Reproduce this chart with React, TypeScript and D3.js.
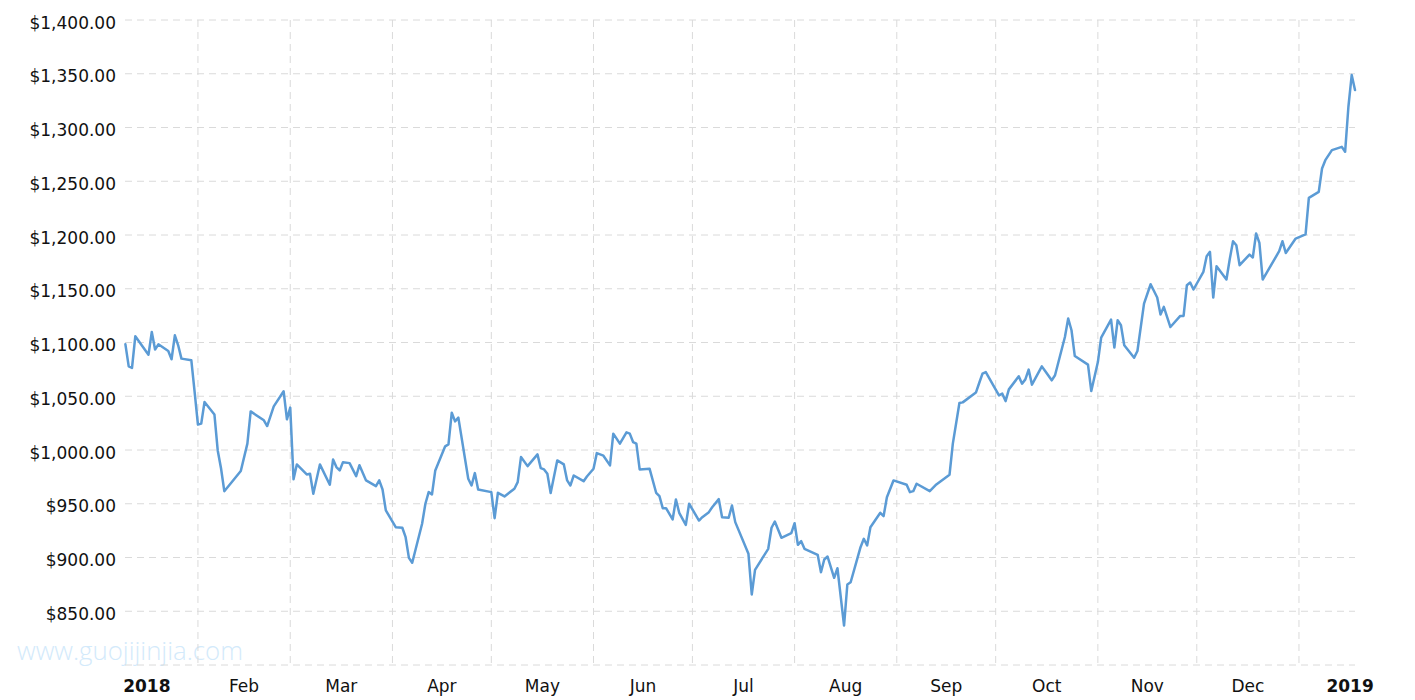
import React from 'react';
import * as d3 from 'd3';

// day offsets from 1 Jan 2018 and the closing price on that day
const DAY_OFFSETS = [
  9, 10, 11, 12, 16, 17, 18, 19, 22, 23, 24, 25, 26, 29, 30, 31, 32, 33, 36, 37,
  38, 39, 44, 46, 47, 51, 52, 54, 57, 58, 59, 60, 61, 64, 65, 66, 68, 71, 72, 73,
  74, 75, 77, 79, 80, 82, 85, 86, 87, 88, 91, 93, 94, 95, 96, 99, 100, 101, 102, 103,
  106, 107, 108, 109, 110, 113, 114, 115, 116, 120, 121, 122, 124, 127, 128, 129, 131, 134, 135, 136,
  137, 138, 140, 142, 143, 144, 145, 148, 149, 151, 152, 154, 156, 157, 159, 161, 162, 163, 164, 165,
  168, 170, 171, 172, 173, 175, 176, 177, 179, 180, 183, 184, 186, 187, 189, 190, 192, 193, 194, 198,
  199, 200, 204, 205, 206, 208, 211, 212, 213, 214, 215, 219, 220, 221, 222, 224, 225, 227, 228, 229,
  231, 232, 233, 234, 235, 238, 239, 240, 242, 246, 247, 248, 249, 253, 255, 259, 260, 262, 263, 267,
  268, 269, 270, 274, 275, 276, 277, 280, 281, 282, 283, 284, 287, 288, 290, 291, 294, 295, 296, 297,
  301, 302, 304, 305, 308, 309, 310, 311, 312, 315, 316, 318, 320, 322, 323, 324, 326, 329, 330, 331,
  332, 333, 336, 337, 338, 339, 340, 343, 344, 345, 346, 347, 350, 351, 352, 353, 354, 359, 360, 361,
  364, 367, 368, 371, 372, 373, 375, 378, 379, 380, 381, 382
];

const PRICES = [
  1098.3, 1077.8, 1076.3, 1105.8, 1088.7, 1109.8, 1093.4, 1098.3, 1092.1, 1084.4, 1106.7, 1097.4, 1085.0, 1083.4, 1053.9, 1023.6, 1024.5, 1044.6, 1033.1, 999.6,
  983.0, 961.7, 980.4, 1005.9, 1035.9, 1027.6, 1022.3, 1040.6, 1054.6, 1028.5, 1039.4, 972.9, 986.6, 977.3, 977.9, 959.3, 986.6, 967.7, 991.2, 984.1,
  981.0, 988.7, 987.8, 975.7, 985.9, 971.7, 966.4, 971.7, 963.3, 943.8, 928.2, 927.7, 918.9, 899.7, 895.1, 931.4, 950.0, 960.8, 958.7, 981.0,
  1003.4, 1005.2, 1034.7, 1026.6, 1030.1, 973.3, 967.0, 978.5, 963.3, 960.8, 936.6, 960.2, 956.8, 964.0, 970.1, 993.4, 985.0, 995.9, 983.1, 981.9,
  977.9, 959.9, 990.3, 986.6, 971.7, 967.0, 976.3, 971.0, 975.4, 982.6, 997.1, 994.7, 985.7, 1015.2, 1005.9, 1016.4, 1015.2, 1007.4, 1005.9, 981.9,
  982.6, 960.2, 957.1, 945.9, 945.9, 935.4, 954.0, 941.6, 930.4, 950.0, 934.4, 937.5, 942.2, 946.8, 954.3, 937.5, 937.0, 948.4, 932.9, 903.4,
  865.6, 888.5, 908.1, 927.7, 933.5, 918.3, 922.6, 931.9, 911.8, 915.2, 908.1, 902.5, 886.3, 898.1, 900.9, 881.1, 890.0, 836.7, 874.9, 877.0,
  898.8, 909.6, 917.4, 911.2, 928.2, 941.6, 938.5, 956.1, 971.7, 967.7, 960.8, 961.7, 968.6, 961.7, 968.0, 977.0, 1005.9, 1043.7, 1044.3, 1053.4,
  1062.3, 1071.0, 1072.5, 1050.8, 1052.4, 1045.5, 1056.4, 1068.5, 1061.7, 1065.7, 1074.8, 1060.8, 1077.8, 1073.5, 1064.8, 1069.5, 1105.1, 1122.3, 1111.4, 1087.4,
  1079.4, 1054.8, 1081.8, 1104.6, 1121.3, 1095.3, 1120.7, 1116.0, 1097.4, 1085.9, 1092.1, 1136.2, 1154.2, 1141.8, 1126.0, 1133.1, 1114.4, 1124.7, 1124.7, 1153.3,
  1155.8, 1149.3, 1165.6, 1180.3, 1184.3, 1141.8, 1171.0, 1158.6, 1177.5, 1194.2, 1190.5, 1171.9, 1181.8, 1179.1, 1201.4, 1192.6, 1158.6, 1184.9, 1194.2, 1183.3,
  1196.7, 1200.5, 1234.5, 1240.1, 1261.9, 1269.6, 1279.0, 1282.0, 1277.4, 1319.3, 1348.8, 1334.8
];

const PRICE_TICKS = [800, 850, 900, 950, 1000, 1050, 1100, 1150, 1200, 1250, 1300, 1350, 1400];
const MONTH_LABELS = ['2018', 'Feb', 'Mar', 'Apr', 'May', 'Jun', 'Jul', 'Aug', 'Sep', 'Oct', 'Nov', 'Dec', '2019'];

const W = 1415;
const H = 700;
const left = 125;
const right = 1355;
const top = 20;
const bottom = 665;

const FONT = '"DejaVu Sans", Verdana, sans-serif';

export default function App() {
  const toDate = (d: number) => new Date(2018, 0, 1 + d);
  const data = DAY_OFFSETS.map((d, i) => ({ date: toDate(d), price: PRICES[i] }));

  const x = d3.scaleTime()
    .domain([new Date(2018, 0, 9, 21), new Date(2019, 0, 18)])
    .range([left, right]);
  const y = d3.scaleLinear().domain([800, 1400]).range([bottom, top]);

  const line = d3.line<{ date: Date; price: number }>()
    .x(d => x(d.date))
    .y(d => y(d.price));

  const monthStarts = d3.timeMonth.range(new Date(2018, 0, 1), new Date(2019, 1, 1));
  const gridMonths = monthStarts.filter(m => x(m) > left && x(m) < right);
  const money = d3.format('$,.2f');

  return (
    <div style={{ position: 'fixed', left: 0, top: 0 }}>
      <svg width={W} height={H} style={{ display: 'block', background: '#fff' }}>
        <text x={17} y={660} fontFamily='"Open Sans", sans-serif' fontWeight={300} fontSize={25}
          fill="#d3eafb" textLength={226} lengthAdjust="spacingAndGlyphs">www.guojijinjia.com</text>

        {PRICE_TICKS.map(t => (
          <line key={'h' + t} x1={left} x2={right} y1={y(t)} y2={y(t)}
            stroke="#dadada" strokeWidth={1} strokeDasharray="7,5" />
        ))}
        {gridMonths.map(m => (
          <line key={'v' + m.getTime()} x1={x(m)} x2={x(m)} y1={top} y2={bottom}
            stroke="#dadada" strokeWidth={1} strokeDasharray="7,5" />
        ))}

        {PRICE_TICKS.filter(t => t > 800).map(t => (
          <text key={'yl' + t} x={116} y={y(t) + 8.5} textAnchor="end"
            fontFamily={FONT} fontSize={17} fill="#111">{money(t)}</text>
        ))}

        {monthStarts.map((m, i) => {
          const next = d3.timeMonth.offset(m, 1);
          const cx = (x(m) + x(next)) / 2;
          const bold = i === 0 || i === 12;
          return (
            <text key={'xl' + i} x={cx} y={692} textAnchor="middle" fontFamily={FONT}
              fontSize={17} fontWeight={bold ? 'bold' : 'normal'} fill="#111">{MONTH_LABELS[i]}</text>
          );
        })}

        <path d={line(data) || ''} fill="none" stroke="#5b9bd5" strokeWidth={2.5}
          strokeLinejoin="round" strokeLinecap="round" />
      </svg>
    </div>
  );
}
